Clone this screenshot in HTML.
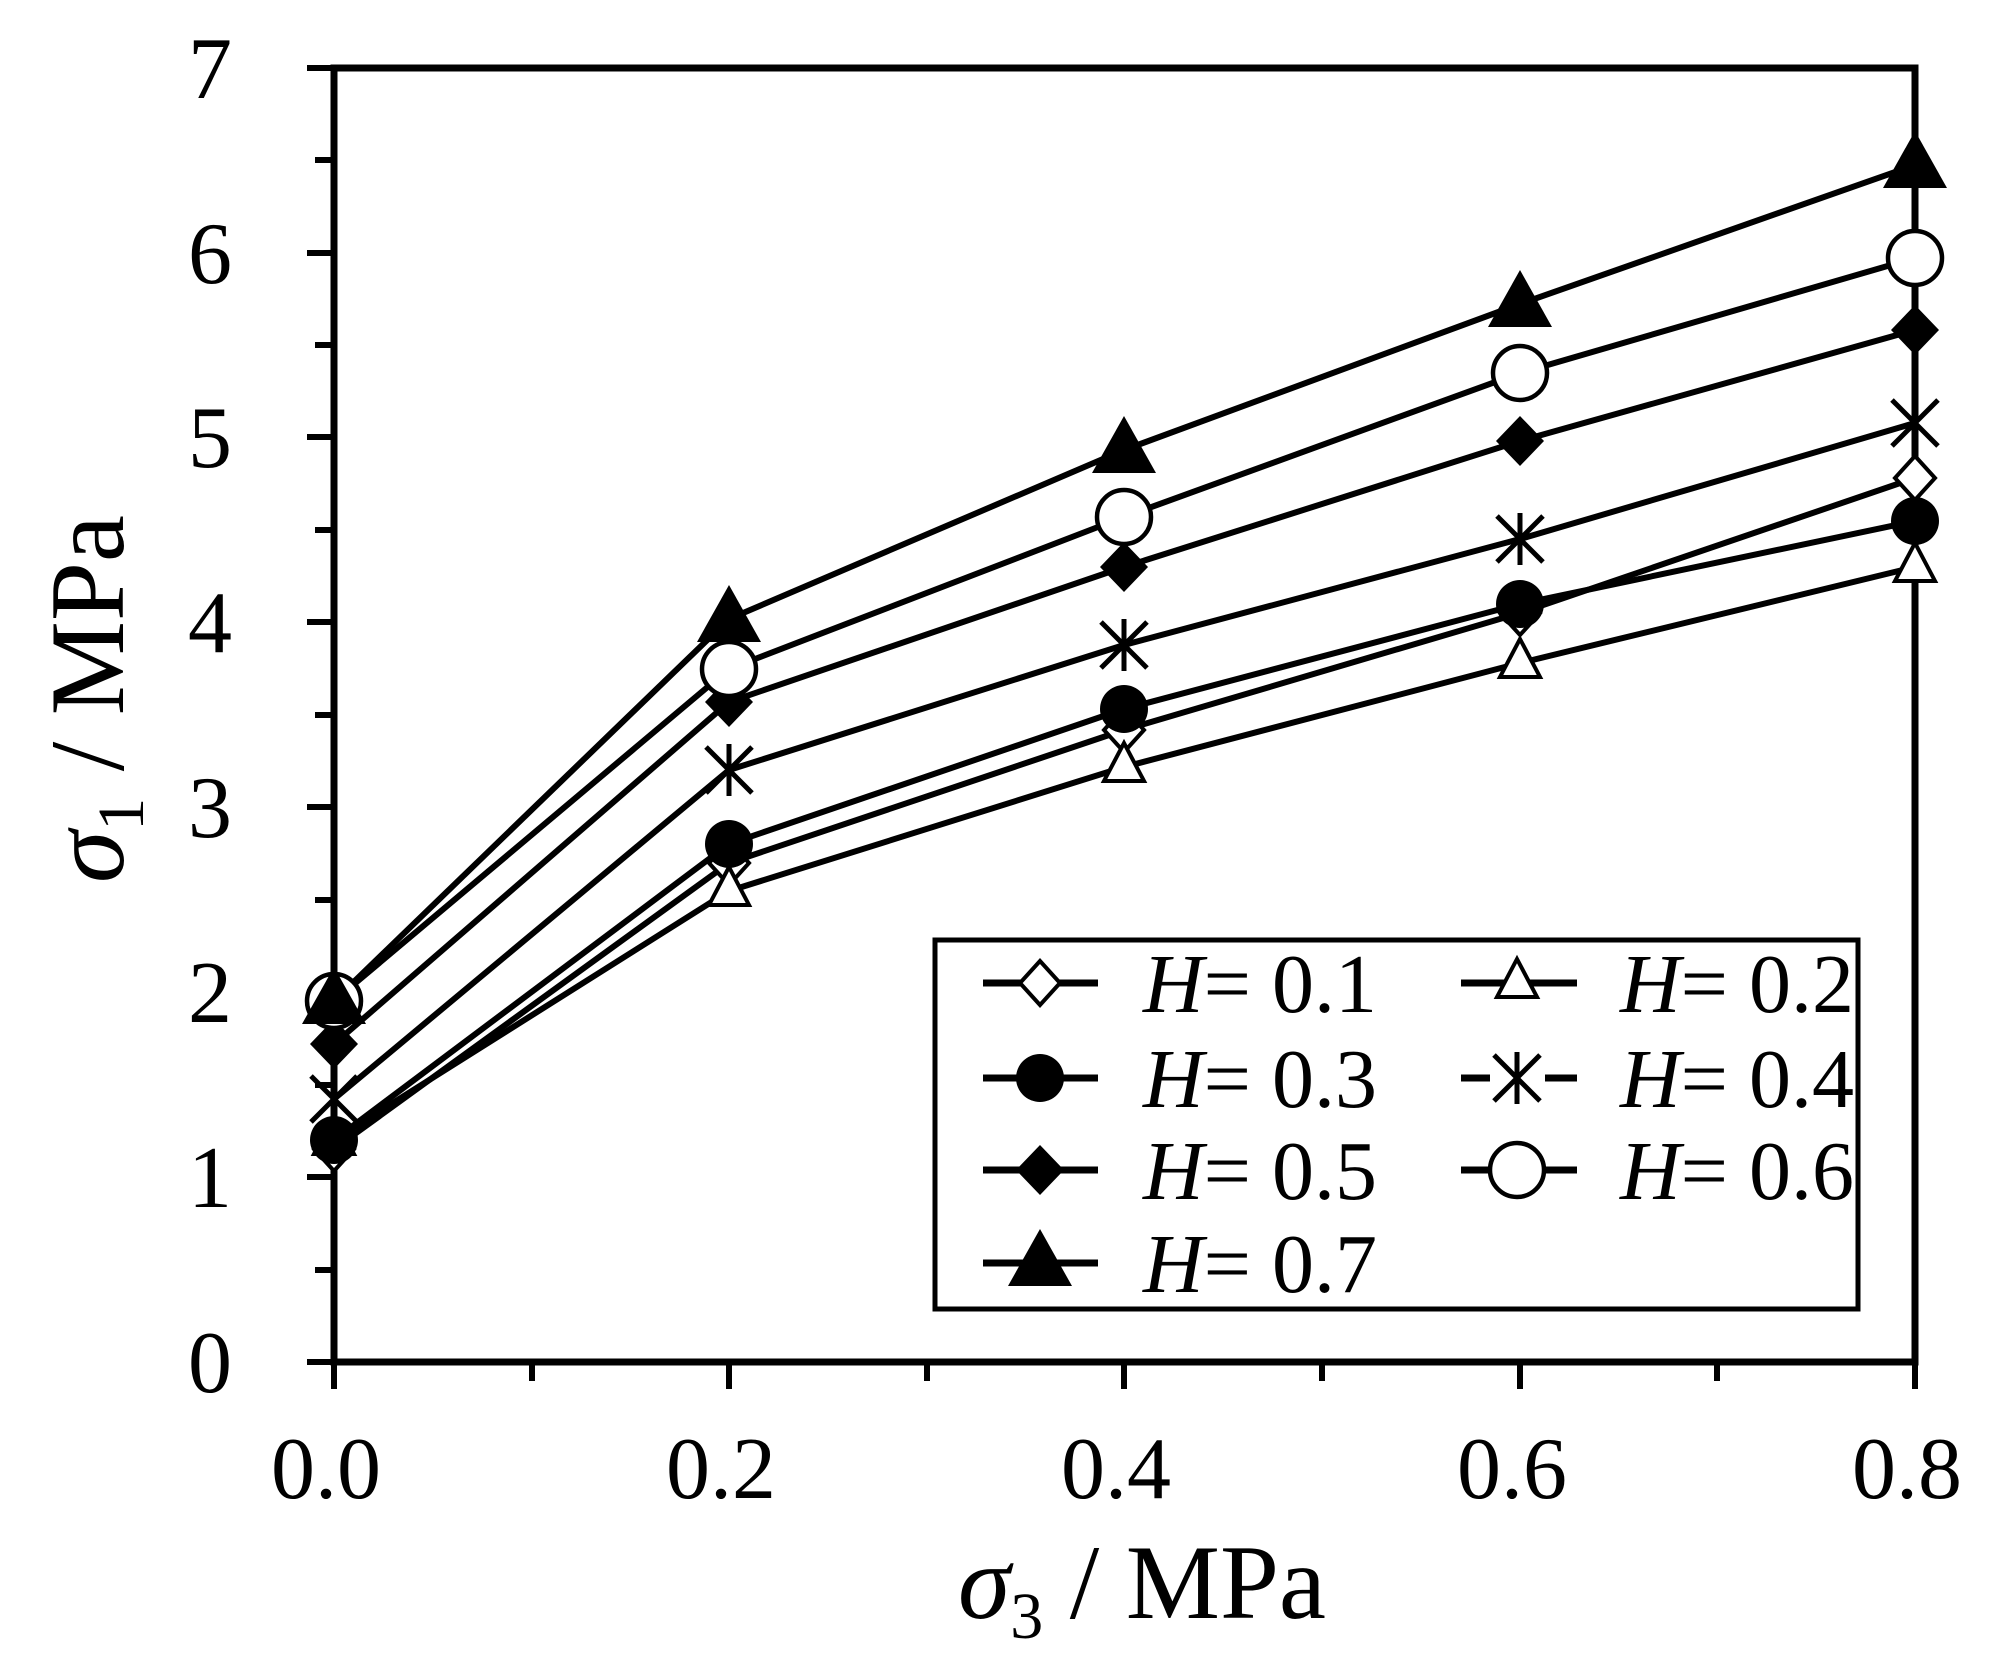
<!DOCTYPE html>
<html><head><meta charset="utf-8"><style>
html,body{margin:0;padding:0;background:#fff;}
svg{display:block;}
text{font-family:"Liberation Serif",serif;fill:#000;}
</style></head><body>
<svg width="1989" height="1665" viewBox="0 0 1989 1665" xmlns="http://www.w3.org/2000/svg">
<defs>
<g id="odia"><path d="M0,-22 L20,0 L0,22 L-20,0 Z" fill="#fff" stroke="#000" stroke-width="4"/></g>
<g id="otri"><path d="M0,-24 L20,14 L-20,14 Z" fill="#fff" stroke="#000" stroke-width="4"/></g>
<g id="fcir"><circle r="24" fill="#000"/></g>
<g id="star"><g stroke="#000" stroke-width="5"><line x1="0" y1="-26" x2="0" y2="26"/><line x1="-23" y1="-23" x2="23" y2="23"/><line x1="-23" y1="23" x2="23" y2="-23"/></g></g>
<g id="fdia"><path d="M0,-25 L24,0 L0,25 L-24,0 Z" fill="#000"/></g>
<g id="ocir"><circle r="27" fill="#fff" stroke="#000" stroke-width="4.5"/></g>
<g id="ftri"><path d="M0,-34 L32,23 L-32,23 Z" fill="#000"/></g>
</defs>

<g stroke="#000" stroke-width="7" fill="none">
<rect x="334" y="68" width="1581" height="1294"/>
</g>
<g stroke="#000" stroke-width="6">
<line x1="307" y1="1362" x2="334" y2="1362"/>
<line x1="307" y1="1177" x2="334" y2="1177"/>
<line x1="307" y1="992" x2="334" y2="992"/>
<line x1="307" y1="807" x2="334" y2="807"/>
<line x1="307" y1="622" x2="334" y2="622"/>
<line x1="307" y1="437" x2="334" y2="437"/>
<line x1="307" y1="253" x2="334" y2="253"/>
<line x1="307" y1="68" x2="334" y2="68"/>
<line x1="315" y1="1270" x2="334" y2="1270"/>
<line x1="315" y1="1085" x2="334" y2="1085"/>
<line x1="315" y1="900" x2="334" y2="900"/>
<line x1="315" y1="715" x2="334" y2="715"/>
<line x1="315" y1="530" x2="334" y2="530"/>
<line x1="315" y1="345" x2="334" y2="345"/>
<line x1="315" y1="160" x2="334" y2="160"/>
<line x1="334" y1="1362" x2="334" y2="1389"/>
<line x1="729" y1="1362" x2="729" y2="1389"/>
<line x1="1124" y1="1362" x2="1124" y2="1389"/>
<line x1="1520" y1="1362" x2="1520" y2="1389"/>
<line x1="1915" y1="1362" x2="1915" y2="1389"/>
<line x1="532" y1="1362" x2="532" y2="1381"/>
<line x1="927" y1="1362" x2="927" y2="1381"/>
<line x1="1322" y1="1362" x2="1322" y2="1381"/>
<line x1="1717" y1="1362" x2="1717" y2="1381"/>
</g>
<g font-size="88" text-anchor="end">
<text x="232" y="1392">0</text>
<text x="232" y="1207">1</text>
<text x="232" y="1022">2</text>
<text x="232" y="837">3</text>
<text x="232" y="652">4</text>
<text x="232" y="467">5</text>
<text x="232" y="283">6</text>
<text x="232" y="98">7</text>
</g>
<g font-size="88" text-anchor="middle">
<text x="326" y="1498">0.0</text>
<text x="721" y="1498">0.2</text>
<text x="1116" y="1498">0.4</text>
<text x="1512" y="1498">0.6</text>
<text x="1907" y="1498">0.8</text>
</g>
<text x="958" y="1618" font-size="106"><tspan font-style="italic">σ</tspan><tspan font-size="66" dy="20">3</tspan><tspan dy="-20"> / MPa</tspan></text>
<text transform="translate(123,883) rotate(-90)" font-size="106"><tspan font-style="italic">σ</tspan><tspan font-size="66" dy="20">1</tspan><tspan dy="-20"> / MPa</tspan></text>

<g stroke="#000" stroke-width="6">
<line x1="334" y1="995" x2="334" y2="1149"/>
<line x1="1915" y1="165" x2="1915" y2="567"/>
</g>

<g stroke="#000" stroke-width="6" fill="none" stroke-linejoin="round">
<polyline points="334,1149 729,863 1124,730 1520,613 1915,478"/>
<polyline points="334,1140 729,891 1124,767 1520,663 1915,567"/>
<polyline points="334,1140 729,844 1124,709 1520,604 1915,521"/>
<polyline points="334,1099 729,770 1124,645 1520,539 1915,423"/>
<polyline points="334,1044 729,702 1124,567 1520,441 1915,330"/>
<polyline points="334,1001 729,669 1124,517 1520,373 1915,258"/>
<polyline points="334,1001 729,619 1124,450 1520,304 1915,165"/>
</g>

<use href="#odia" x="334" y="1149"/><use href="#odia" x="729" y="863"/><use href="#odia" x="1124" y="730"/><use href="#odia" x="1520" y="613"/><use href="#odia" x="1915" y="478"/>
<use href="#otri" x="334" y="1140"/><use href="#otri" x="729" y="891"/><use href="#otri" x="1124" y="767"/><use href="#otri" x="1520" y="663"/><use href="#otri" x="1915" y="567"/>
<use href="#fcir" x="334" y="1140"/><use href="#fcir" x="729" y="844"/><use href="#fcir" x="1124" y="709"/><use href="#fcir" x="1520" y="604"/><use href="#fcir" x="1915" y="521"/>
<use href="#star" x="334" y="1099"/><use href="#star" x="729" y="770"/><use href="#star" x="1124" y="645"/><use href="#star" x="1520" y="539"/><use href="#star" x="1915" y="423"/>
<use href="#fdia" x="334" y="1044"/><use href="#fdia" x="729" y="702"/><use href="#fdia" x="1124" y="567"/><use href="#fdia" x="1520" y="441"/><use href="#fdia" x="1915" y="330"/>
<use href="#ocir" x="334" y="1001"/><use href="#ocir" x="729" y="669"/><use href="#ocir" x="1124" y="517"/><use href="#ocir" x="1520" y="373"/><use href="#ocir" x="1915" y="258"/>
<use href="#ftri" x="334" y="1001"/><use href="#ftri" x="729" y="619"/><use href="#ftri" x="1124" y="450"/><use href="#ftri" x="1520" y="304"/><use href="#ftri" x="1915" y="165"/>

<rect x="935" y="940" width="923" height="369" fill="#fff" stroke="#000" stroke-width="5"/>
<g stroke="#000" stroke-width="7">
<line x1="983" y1="983" x2="1098" y2="983"/>
<line x1="983" y1="1078" x2="1098" y2="1078"/>
<line x1="983" y1="1170" x2="1098" y2="1170"/>
<line x1="983" y1="1263" x2="1098" y2="1263"/>
<line x1="1461" y1="983" x2="1577" y2="983"/>
<line x1="1461" y1="1078" x2="1490" y2="1078"/>
<line x1="1545" y1="1078" x2="1577" y2="1078"/>
<line x1="1461" y1="1170" x2="1577" y2="1170"/>
</g>
<use href="#odia" x="1040" y="983"/>
<use href="#fcir" x="1040" y="1078"/>
<use href="#fdia" x="1040" y="1170"/>
<use href="#ftri" x="1040" y="1263"/>
<use href="#otri" x="1517" y="983"/>
<use href="#star" x="1517" y="1078"/>
<use href="#ocir" x="1517" y="1170"/>
<g font-size="84">
<text x="1143" y="1012"><tspan font-style="italic">H</tspan>= 0.1</text>
<text x="1143" y="1107"><tspan font-style="italic">H</tspan>= 0.3</text>
<text x="1143" y="1199"><tspan font-style="italic">H</tspan>= 0.5</text>
<text x="1143" y="1292"><tspan font-style="italic">H</tspan>= 0.7</text>
<text x="1620" y="1012"><tspan font-style="italic">H</tspan>= 0.2</text>
<text x="1620" y="1107"><tspan font-style="italic">H</tspan>= 0.4</text>
<text x="1620" y="1199"><tspan font-style="italic">H</tspan>= 0.6</text>
</g>
</svg>
</body></html>
